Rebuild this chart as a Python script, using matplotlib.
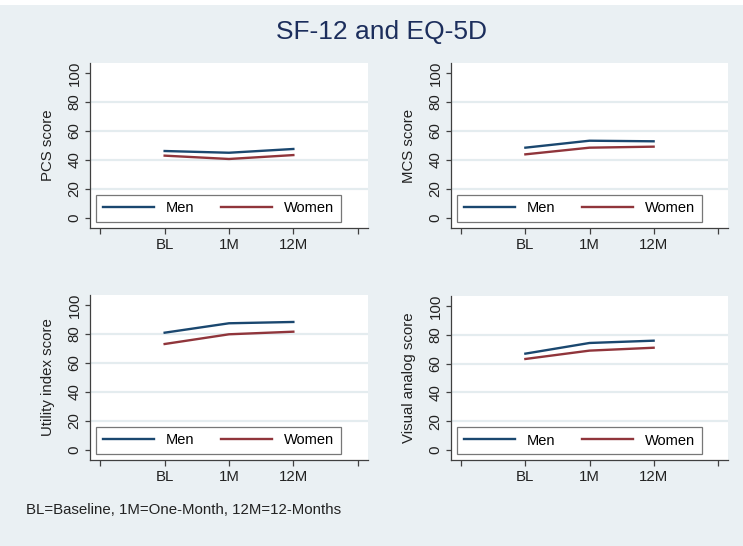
import matplotlib
matplotlib.use("Agg")
import matplotlib.pyplot as plt
from matplotlib.patches import Rectangle

plt.rcParams['font.family'] = ['Liberation Sans', 'DejaVu Sans']

timepoints = ["BL", "1M", "12M"]
x_pos = [1, 2, 3]
series_names = ["Men", "Women"]

pcs_men = [46.2, 45.0, 47.6]
pcs_women = [43.0, 40.7, 43.4]
mcs_men = [48.5, 53.3, 52.9]
mcs_women = [43.9, 48.5, 49.2]
utility_men = [80.9, 87.4, 88.3]
utility_women = [73.1, 79.8, 81.6]
vas_men = [66.9, 74.3, 75.9]
vas_women = [63.2, 69.0, 71.0]

ylabels = ["PCS score", "MCS score", "Utility index score", "Visual analog score"]
panels = [(pcs_men, pcs_women), (mcs_men, mcs_women),
          (utility_men, utility_women), (vas_men, vas_women)]

title = "SF-12 and EQ-5D"
note = "BL=Baseline, 1M=One-Month, 12M=12-Months"

W, H = 743, 546
bg = "#EAF0F3"
grid_c = "#E4ECEF"
men_c = "#1A476F"
women_c = "#90353B"
axis_c = "#404040"

fig = plt.figure(figsize=(W / 100, H / 100), dpi=100, facecolor=bg)
fig.patches.append(Rectangle((0, 1 - 5 / H), 1, 5 / H, transform=fig.transFigure,
                             facecolor="white", edgecolor="none", zorder=-1))

# axes boxes in pixels: left, right, top, bottom
boxes = [(90, 368, 63, 228), (451, 728, 63, 228),
         (90, 368, 295, 460), (451, 728, 296, 460)]

for (l, r, t, b), (men, women), ylab in zip(boxes, panels, ylabels):
    ax = fig.add_axes([l / W, 1 - b / H, (r - l) / W, (b - t) / H])
    ax.set_facecolor("white")
    ax.set_xlim(-0.16, 4.16)
    ax.set_ylim(-6.9, 106.9)
    for g in [20, 40, 60, 80]:
        ax.axhline(g, color=grid_c, lw=1.6, zorder=0)
    ax.plot(x_pos, men, color=men_c, lw=1.7, label=series_names[0], zorder=3)
    ax.plot(x_pos, women, color=women_c, lw=1.7, label=series_names[1], zorder=3)
    ax.set_xticks([0, 1, 2, 3, 4])
    ax.set_xticklabels([""] + timepoints + [""])
    ax.set_yticks([0, 20, 40, 60, 80, 100])
    ax.set_yticklabels(["0", "20", "40", "60", "80", "100"], rotation=90, va="center")
    ax.tick_params(axis="y", length=3.6, width=0.9, color=axis_c, pad=2.5,
                   labelsize=10.8, labelcolor="#222222")
    ax.tick_params(axis="x", length=4, width=0.9, color=axis_c, pad=3,
                   labelsize=10.8, labelcolor="#222222")
    for s in ["top", "right"]:
        ax.spines[s].set_visible(False)
    for s in ["left", "bottom"]:
        ax.spines[s].set_color(axis_c)
        ax.spines[s].set_linewidth(0.9)
    ax.set_ylabel(ylab, fontsize=10.8, color="#222222", labelpad=9)
    leg = ax.legend(loc="lower left", bbox_to_anchor=(0.0216, 0.036), ncol=2,
                    frameon=True, fontsize=10.5, handlelength=3.5, handletextpad=0.85,
                    columnspacing=1.8, borderpad=0.45, borderaxespad=0,
                    fancybox=False)
    leg.get_frame().set_edgecolor("#555555")
    leg.get_frame().set_linewidth(0.9)
    leg.get_frame().set_facecolor("white")

fig.text(382 / W, 1 - 32 / H, title, ha="center", va="center", fontsize=19,
         color="#1C2E5C")
fig.text(26 / W, 1 - 510 / H, note, ha="left", va="center", fontsize=10.8,
         color="#222222")

fig.savefig("out.png", dpi=100, facecolor=bg)
